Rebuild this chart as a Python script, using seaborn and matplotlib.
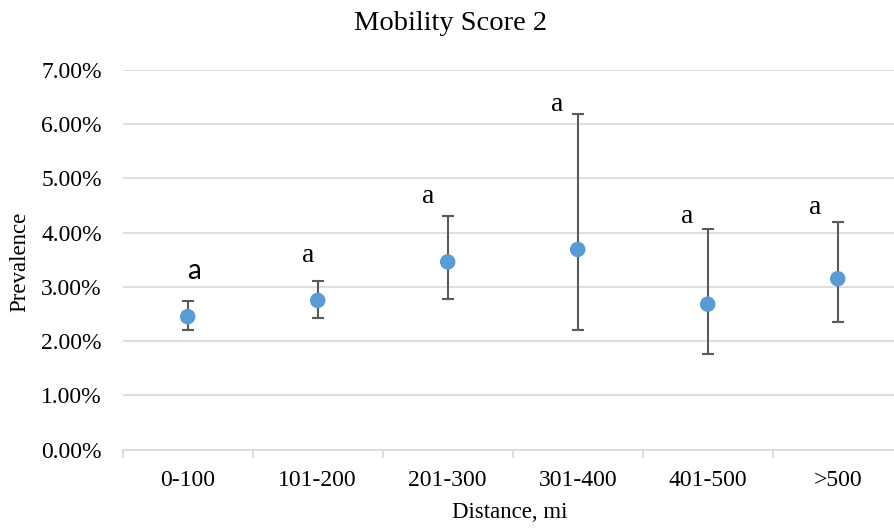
import matplotlib
matplotlib.use("Agg")
import matplotlib.pyplot as plt
import seaborn as sns
import pandas as pd
from matplotlib.ticker import PercentFormatter

# values (prevalence, %)
categories = ["0-100", "101-200", "201-300", "301-400", "401-500", ">500"]
prevalence = [2.45, 2.75, 3.46, 3.69, 2.68, 3.15]
ci_low = [2.20, 2.42, 2.78, 2.20, 1.77, 2.36]
ci_high = [2.74, 3.11, 4.31, 6.18, 4.06, 4.20]
letters = ["a", "a", "a", "a", "a", "a"]

# label placement (pixels, relative to top of error bar)
label_dx = [6, -10, -20, -21, -21, -23]
label_dy = [30, 25, 19, 10, 13, 14]

df = pd.DataFrame({"distance": categories, "prev": prevalence,
                   "lo": ci_low, "hi": ci_high})

sns.set_style("white")
plt.rcParams["font.family"] = ["Liberation Serif", "DejaVu Serif"]
plt.rcParams["text.color"] = "black"
plt.rcParams["axes.labelcolor"] = "black"
plt.rcParams["xtick.color"] = "black"
plt.rcParams["ytick.color"] = "black"

W, H = 894, 529
fig = plt.figure(figsize=(W / 100, H / 100), dpi=100)
ax = fig.add_axes([122.7 / W, 1 - 449.5 / H, 780 / W, 379.5 / H])

sns.scatterplot(data=df, x="distance", y="prev", ax=ax, s=125,
                color="#5B9BD5", edgecolor="none", zorder=4, legend=False)
ax.errorbar(df["distance"], df["prev"],
            yerr=[df["prev"] - df["lo"], df["hi"] - df["prev"]],
            fmt="none", ecolor="#595959", elinewidth=1.5, capsize=4.2,
            capthick=1.5, zorder=3)

for i, (lab, dx, dy) in enumerate(zip(letters, label_dx, label_dy)):
    if i == 0:
        fam = ["Lato", "DejaVu Sans"]
    else:
        fam = ["Liberation Serif", "DejaVu Serif"]
    ax.annotate(lab, (i, ci_high[i]), xytext=(dx, dy),
                textcoords="offset pixels", ha="center", va="center",
                fontsize=20, family=fam, color="black")

ax.set_ylim(0, 7)
ax.set_yticks(range(0, 8))
ax.yaxis.set_major_formatter(PercentFormatter(decimals=2))
ax.set_xlim(-0.5, 5.5)
ax.set_xticks([i - 0.5 for i in range(7)])
ax.set_xticklabels([])
ax.set_xticks(range(6), minor=True)
ax.set_xticklabels(categories, minor=True)

ax.grid(axis="y", color="#D9D9D9", linewidth=1.2)
ax.set_axisbelow(True)
for side in ["left", "right", "top"]:
    ax.spines[side].set_visible(False)
ax.spines["bottom"].set_color("#D9D9D9")
ax.spines["bottom"].set_linewidth(1.2)

ax.tick_params(axis="x", which="major", length=6, width=1.2,
               color="#D9D9D9", direction="out", bottom=True)
ax.tick_params(axis="x", which="minor", length=0, labelsize=17, pad=15)
ax.tick_params(axis="y", length=0, labelsize=17, pad=15)

ax.set_xlabel("Distance, mi", fontsize=16.5)
ax.xaxis.set_label_coords((510 - 122.7) / 780, (449.5 - 512) / 379.5)
ax.xaxis.label.set_va("center")
ax.set_ylabel("Prevalence", fontsize=16.5)
ax.yaxis.set_label_coords((20 - 122.7) / 780, (449.5 - 262) / 379.5)
ax.yaxis.label.set_va("center")

fig.text(451 / W, 1 - 23 / H, "Mobility Score 2", fontsize=20.5,
         ha="center", va="center")

fig.savefig("out.png", dpi=100)
